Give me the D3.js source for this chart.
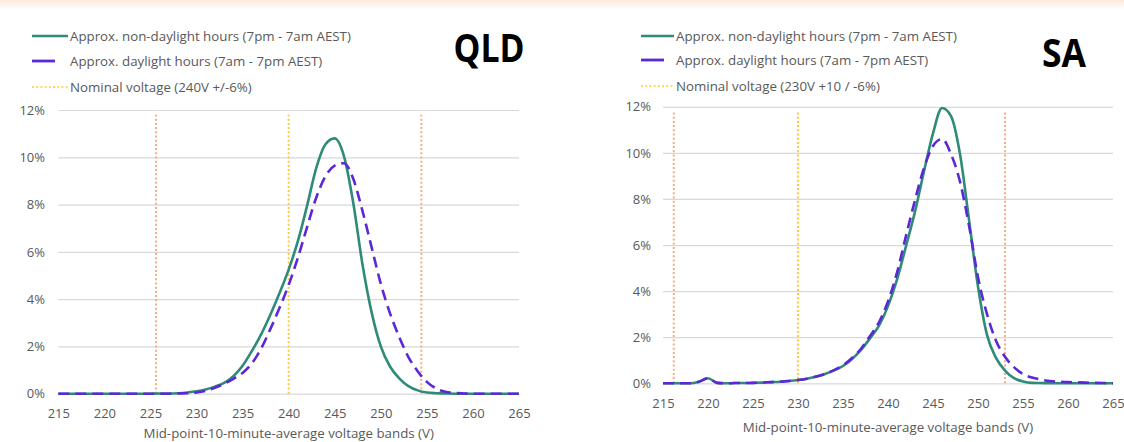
<!DOCTYPE html>
<html><head><meta charset="utf-8">
<script src="https://cdn.jsdelivr.net/npm/d3@7"></script>
<style>
body{margin:0;background:#fff;}
svg{display:block;font-family:"Open Sans",sans-serif;}
</style>
</head><body>
<svg id="chart" width="1124" height="442"></svg>
<script>
// ---- data ----
const voltages = [215,216,217,218,219,220,221,222,223,224,225,226,227,228,229,230,231,232,233,234,235,236,237,238,239,240,241,242,243,244,245,246,247,248,249,250,251,252,253,254,255,256,257,258,259,260,261,262,263,264,265];

const qldNonDaylight = [0,0,0,0,0,0,0,0,0,0,0,0.01,0.01,0.02,0.05,0.1,0.18,0.3,0.46,0.74,1.18,1.8,2.5,3.33,4.25,5.25,6.45,7.95,9.55,10.55,10.8,10.05,8.1,5.5,3.45,2.0,1.15,0.65,0.32,0.14,0.05,0.02,0.01,0,0,0,0,0,0,0,0];
const qldDaylight    = [0,0,0,0,0,0,0,0,0,0,0,0,0,0.01,0.02,0.05,0.12,0.25,0.42,0.63,0.88,1.28,1.9,2.72,3.62,4.6,5.75,7.05,8.3,9.2,9.65,9.75,9.1,7.75,6.2,4.65,3.4,2.4,1.55,0.95,0.5,0.22,0.08,0.03,0.01,0,0,0,0,0,0];

const saNonDaylight  = [0,0,0,0,0.07,0.22,0.02,0,0.01,0.01,0.02,0.03,0.05,0.07,0.1,0.14,0.2,0.28,0.4,0.56,0.75,1.05,1.45,1.95,2.5,3.35,4.5,5.95,7.45,9.2,10.85,11.95,11.6,9.95,7.1,4.2,2.1,1.1,0.55,0.22,0.08,0.02,0.01,0,0,0,0,0,0,0,0];
const saDaylight     = [0,0,0,0,0.07,0.22,0.02,0,0.01,0.01,0.02,0.03,0.05,0.07,0.1,0.14,0.2,0.29,0.41,0.57,0.78,1.1,1.5,2.05,2.65,3.55,4.8,6.4,7.95,9.35,10.3,10.6,9.95,8.75,6.85,4.6,3.0,1.85,1.15,0.7,0.4,0.25,0.16,0.1,0.07,0.05,0.04,0.03,0.02,0.01,0];

const qldNominal = [225.6, 240, 254.4];   // 240V -6%, nominal, +6%
const saNominal  = [216.2, 230, 253];     // 230V -6%, nominal, +10%
const nominalTop = 11.8;

const xTicks = [215,220,225,230,235,240,245,250,255,260,265];
const yTicks = [0,2,4,6,8,10,12];

const seriesLabels = ["Approx. non-daylight hours (7pm - 7am AEST)", "Approx. daylight hours (7am - 7pm AEST)"];
const qldNominalLabel = "Nominal voltage (240V +/-6%)";
const saNominalLabel  = "Nominal voltage (230V +10 / -6%)";
const xTitle = "Mid-point-10-minute-average voltage bands (V)";

// ---- styles ----
const C = {teal:"#2e8b78", purple:"#5b28d6", grid:"#d9d9d9", text:"#595959", orange:"#f6ad82", yellow:"#ffc940", yellowLegend:"#ffd966"};
const FS = 13;

const svg = d3.select("#chart");

// faint peach top band
const defs = svg.append("defs");
const lg = defs.append("linearGradient").attr("id","topfade").attr("x1",0).attr("y1",0).attr("x2",0).attr("y2",1);
lg.append("stop").attr("offset","0%").attr("stop-color","#fbeadb");
lg.append("stop").attr("offset","100%").attr("stop-color","#ffffff");
svg.append("rect").attr("x",0).attr("y",0).attr("width",1124).attr("height",10).attr("fill","url(#topfade)");

const panels = [
  {title:"QLD", titleX:489, titleY:62, titleLen:71,
   xr:[58.3,519], yr:[393.7,110], yLabelX:45, xLabelY:420.5, xTitleY:437.5,
   non:qldNonDaylight, day:qldDaylight, nominal:qldNominal, nomLabel:qldNominalLabel,
   leg:{x0:32, x1:68, xs:55, tx:70, ys:[36,61,87]}},
  {title:"SA", titleX:1064, titleY:67, titleLen:44,
   xr:[663,1113], yr:[383.3,106.8], yLabelX:651, xLabelY:411, xTitleY:432,
   non:saNonDaylight, day:saDaylight, nominal:saNominal, nomLabel:saNominalLabel,
   leg:{x0:641, x1:674, xs:664, tx:676, ys:[36,60,86]}}
];

panels.forEach(p => {
  const g = svg.append("g");
  const x = d3.scaleLinear().domain([215,265]).range(p.xr);
  const y = d3.scaleLinear().domain([0,12]).range(p.yr);

  // y axis with gridlines
  const ya = g.append("g").attr("transform",`translate(${p.xr[0]},0)`)
    .call(d3.axisLeft(y).tickValues(yTicks).tickSize(-(p.xr[1]-p.xr[0])).tickPadding(p.xr[0]-p.yLabelX).tickFormat(d=>d+"%"));
  ya.select(".domain").remove();
  ya.selectAll(".tick line").attr("stroke",C.grid).attr("stroke-width",1.2);
  ya.selectAll(".tick text").attr("fill",C.text).attr("font-size",FS).attr("font-family","'Open Sans',sans-serif");

  // x axis labels
  const xa = g.append("g").attr("transform",`translate(0,${p.yr[0]})`)
    .call(d3.axisBottom(x).tickValues(xTicks).tickSize(0).tickPadding(p.xLabelY - p.yr[0] - 12));
  xa.select(".domain").remove();
  xa.selectAll(".tick text").attr("fill",C.text).attr("font-size",FS).attr("font-family","'Open Sans',sans-serif");

  g.append("text").attr("x",(p.xr[0]+p.xr[1])/2).attr("y",p.xTitleY).attr("text-anchor","middle")
    .attr("fill",C.text).attr("font-size",13.3).text(xTitle);

  // nominal voltage lines
  p.nominal.forEach((v,i) => {
    g.append("line").attr("x1",x(v)).attr("x2",x(v)).attr("y1",y(0)).attr("y2",y(nominalTop))
      .attr("stroke", i===1 ? C.yellow : C.orange).attr("stroke-width",2).attr("stroke-dasharray","2,2.2");
  });

  const line = d3.line().x((d,i)=>x(voltages[i])).y(d=>y(d)).curve(d3.curveMonotoneX);
  g.append("path").datum(p.non).attr("d",line).attr("fill","none").attr("stroke",C.teal).attr("stroke-width",2.6);
  g.append("path").datum(p.day).attr("d",line).attr("fill","none").attr("stroke",C.purple).attr("stroke-width",2.6)
    .attr("stroke-dasharray","11,6");

  // legend
  const L = p.leg;
  g.append("line").attr("x1",L.x0).attr("x2",L.x1).attr("y1",L.ys[0]).attr("y2",L.ys[0]).attr("stroke",C.teal).attr("stroke-width",2.6);
  g.append("line").attr("x1",L.x0).attr("x2",L.xs).attr("y1",L.ys[1]).attr("y2",L.ys[1]).attr("stroke",C.purple).attr("stroke-width",2.8);
  g.append("line").attr("x1",L.x0).attr("x2",L.x1).attr("y1",L.ys[2]).attr("y2",L.ys[2]).attr("stroke",C.yellowLegend).attr("stroke-width",2).attr("stroke-dasharray","2,2.2");
  [seriesLabels[0], seriesLabels[1], p.nomLabel].forEach((t,i) => {
    g.append("text").attr("x",L.tx).attr("y",L.ys[i]).attr("dy","0.35em").attr("fill",C.text).attr("font-size",13.3).text(t);
  });

  // panel title
  g.append("text").attr("x",p.titleX).attr("y",p.titleY).attr("text-anchor","middle")
    .attr("font-size",40).attr("font-weight","bold").attr("fill","#000")
    .attr("textLength",p.titleLen).attr("lengthAdjust","spacingAndGlyphs").text(p.title);
});
</script>
</body></html>
